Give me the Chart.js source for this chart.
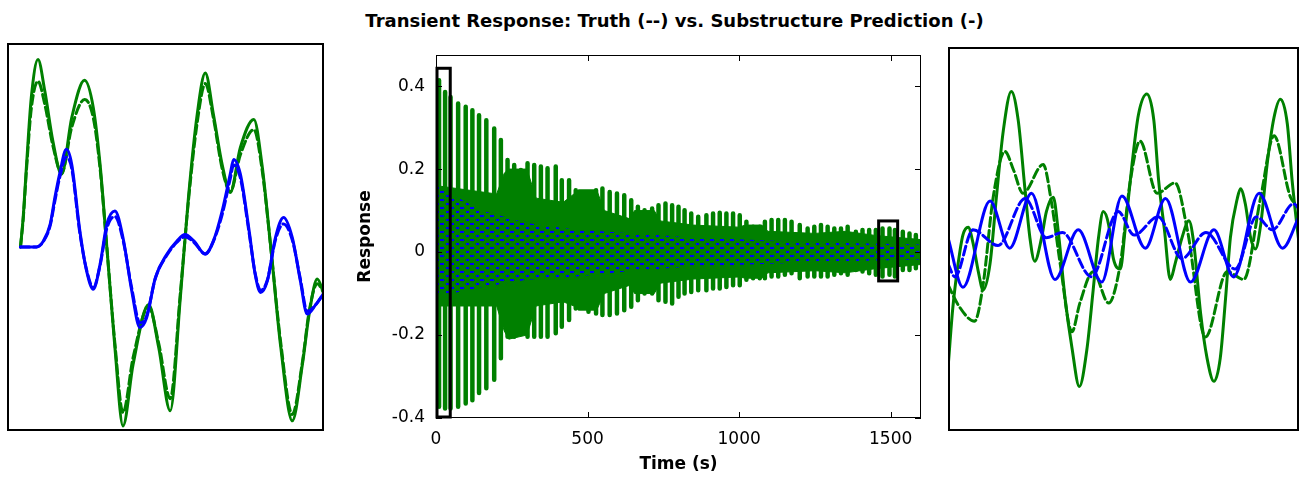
<!DOCTYPE html>
<html>
<head>
<meta charset="utf-8">
<script src="https://cdn.jsdelivr.net/npm/chart.js@4.4.1/dist/chart.umd.min.js"></script>
<style>
  body { margin: 0; background: #fff; width: 1299px; height: 477px; overflow: hidden; position: relative; }
  canvas { position: absolute; }
  #title { position: absolute; left: 0; width: 1349px; top: 10px; text-align: center;
    font: bold 18px "DejaVu Sans", sans-serif; line-height: 22px; color: #000; }
</style>
</head>
<body>
<div id="title">Transient Response: Truth (--) vs. Substructure Prediction (-)</div>
<canvas id="leftChart" width="317" height="388" style="left:7px;top:43px"></canvas>
<canvas id="mainChart" width="600" height="447" style="left:340px;top:30px"></canvas>
<canvas id="rightChart" width="351" height="384" style="left:948px;top:47px"></canvas>
<script>
// zoom windows (time range, response range)
const leftRange = [0, 47];
const leftSpan = [-0.4, 0.443];
const rightRange = [1457, 1523];
const rightSpan = [-0.072, 0.075];

// tick labels of the full-record axes
const xTicks = [0, 500, 1000, 1500];
const yTicks = [-0.4, -0.2, 0, 0.2, 0.4];

// left zoom: first seconds
const leftGreenTime = [2.0, 2.4, 2.9, 3.6, 4.6, 5.6, 6.8, 8.1, 9.6, 11.5, 12.8, 13.8, 14.8, 16.0, 17.2, 18.7, 21.0, 22.5, 24.2, 25.7, 26.9, 28.2, 29.4, 30.6, 31.9, 33.1, 34.6, 36.6, 37.8, 39.1, 40.6, 42.3, 43.8, 44.8, 46.0, 47.0];
const leftGreenPred = [0.0, 0.064, 0.179, 0.324, 0.407, 0.339, 0.230, 0.158, 0.281, 0.362, 0.302, 0.179, 0.0, -0.219, -0.389, -0.255, -0.125, -0.219, -0.356, -0.110, 0.107, 0.288, 0.378, 0.288, 0.179, 0.118, 0.216, 0.277, 0.179, 0.0, -0.219, -0.378, -0.255, -0.146, -0.070, -0.103];
const leftGreenTruth = [0.0, 0.06, 0.17, 0.30, 0.36, 0.31, 0.22, 0.16, 0.26, 0.32, 0.28, 0.17, 0.0, -0.21, -0.36, -0.24, -0.13, -0.21, -0.33, -0.10, 0.10, 0.27, 0.355, 0.28, 0.17, 0.12, 0.20, 0.255, 0.17, 0.0, -0.21, -0.364, -0.25, -0.14, -0.08, -0.10];
const leftBlueTime = [2.0, 4.4, 5.4, 6.4, 7.1, 7.8, 8.8, 9.6, 10.8, 11.8, 12.8, 13.8, 14.8, 16.0, 17.2, 18.5, 19.7, 20.7, 22.0, 23.7, 25.2, 26.4, 27.7, 29.4, 30.6, 31.9, 33.1, 33.6, 34.6, 35.9, 36.8, 37.6, 38.6, 39.8, 41.0, 42.3, 43.5, 44.5, 45.8, 47.0];
const leftBluePred = [0.0, 0.0, 0.013, 0.049, 0.107, 0.158, 0.212, 0.179, 0.035, -0.052, -0.092, -0.038, 0.049, 0.078, 0.020, -0.096, -0.175, -0.154, -0.067, -0.016, 0.013, 0.027, 0.013, -0.016, 0.013, 0.078, 0.158, 0.190, 0.158, 0.035, -0.060, -0.099, -0.074, 0.020, 0.064, 0.020, -0.074, -0.146, -0.125, -0.100];
const leftBlueTruth = [0.0, 0.0, 0.012, 0.046, 0.10, 0.15, 0.195, 0.17, 0.03, -0.05, -0.088, -0.04, 0.04, 0.066, 0.015, -0.09, -0.165, -0.15, -0.068, -0.018, 0.01, 0.022, 0.01, -0.015, 0.012, 0.07, 0.148, 0.178, 0.15, 0.03, -0.058, -0.094, -0.072, 0.015, 0.05, 0.015, -0.07, -0.14, -0.125, -0.10];

// right zoom: near the end
const rightGreenTime = [1457.0, 1457.9, 1458.9, 1459.8, 1460.8, 1461.7, 1462.7, 1463.6, 1464.9, 1466.1, 1467.4, 1468.9, 1470.2, 1471.5, 1472.4, 1473.3, 1474.6, 1475.5, 1476.8, 1477.7, 1479.0, 1480.3, 1481.7, 1483.1, 1484.3, 1485.3, 1486.2, 1487.2, 1488.1, 1489.4, 1490.3, 1491.6, 1492.8, 1494.4, 1495.7, 1496.6, 1497.7, 1498.8, 1499.7, 1501.0, 1502.3, 1503.2, 1504.5, 1505.7, 1507.0, 1508.2, 1509.2, 1510.1, 1511.4, 1512.0, 1512.9, 1513.9, 1514.8, 1515.8, 1517.0, 1518.3, 1519.5, 1520.8, 1521.7, 1522.7, 1523.0];
const rightGreenPred = [-0.048, -0.025, -0.008, 0.003, 0.006, 0.0, -0.011, -0.018, -0.008, 0.0175, 0.043, 0.058, 0.047, 0.020, 0.002, -0.007, 0.002, 0.012, 0.0175, 0.005, -0.021, -0.040, -0.055, -0.041, -0.018, 0.002, 0.012, 0.007, -0.006, -0.010, 0.005, 0.030, 0.049, 0.057, 0.047, 0.024, 0.005, -0.014, -0.008, 0.002, 0.0085, 0.0, -0.027, -0.044, -0.053, -0.044, -0.021, 0.002, 0.017, 0.0207, 0.015, 0.002, -0.0023, 0.007, 0.030, 0.048, 0.055, 0.0456, 0.024, 0.005, 0.0];
const rightTruthTime = [1457.0, 1459.0, 1462.0, 1463.6, 1465.5, 1467.7, 1469.3, 1471.1, 1474.9, 1476.5, 1478.1, 1480.3, 1481.8, 1484.3, 1487.2, 1489.4, 1491.3, 1493.1, 1496.3, 1499.7, 1502.0, 1505.4, 1509.5, 1512.6, 1515.8, 1518.3, 1521.4, 1523.0];
const rightGreenTruth = [-0.016, -0.024, -0.030, -0.016, 0.0175, 0.035, 0.028, 0.019, 0.030, 0.015, -0.008, -0.034, -0.023, -0.011, -0.023, -0.008, 0.024, 0.039, 0.019, 0.023, 0.005, -0.036, -0.011, -0.014, 0.0175, 0.041, 0.0175, 0.014];
const rightBlueTime = [1457.0, 1459.8, 1464.9, 1468.6, 1472.7, 1477.1, 1481.5, 1485.9, 1489.7, 1494.1, 1497.9, 1502.6, 1507.0, 1510.7, 1515.5, 1519.9, 1523.0];
const rightBluePred = [0.002, -0.017, 0.016, -0.002, 0.019, -0.014, 0.005, -0.015, 0.018, -0.002, 0.017, -0.015, 0.005, -0.013, 0.019, -0.002, 0.010];
const rightBlueTruthTime = [1457.0, 1458.3, 1461.7, 1466.4, 1471.5, 1475.5, 1478.5, 1484.0, 1489.0, 1492.0, 1496.5, 1501.0, 1505.5, 1511.0, 1515.0, 1518.0, 1522.0, 1523.0];
const rightBlueTruth = [-0.008, -0.013, 0.005, -0.001, 0.017, 0.002, 0.004, -0.013, 0.012, 0.003, 0.010, -0.006, 0.004, -0.010, 0.010, 0.005, 0.015, 0.013];

// full record: green peaks, green core band, blue band
const spikeTime = [10, 30, 48, 73, 98, 120, 142, 166, 192, 214, 236, 258, 280, 302, 324, 346, 368, 395, 415, 439, 461, 481, 503, 528, 549, 573, 597, 621, 644, 666, 688, 713, 734, 757, 779, 800, 820, 842, 865, 892, 914, 936, 958, 980, 1002, 1024, 1046, 1068, 1085, 1107, 1129, 1151, 1173, 1200, 1226, 1248, 1270, 1292, 1314, 1336, 1358, 1385, 1407, 1429, 1451, 1473, 1496, 1514, 1540, 1562, 1583];
const spikeHigh = [0.414, 0.386, 0.374, 0.358, 0.350, 0.342, 0.330, 0.318, 0.298, 0.270, 0.222, 0.210, 0.198, 0.214, 0.210, 0.206, 0.202, 0.206, 0.173, 0.173, 0.149, 0.141, 0.141, 0.149, 0.153, 0.145, 0.141, 0.137, 0.125, 0.109, 0.101, 0.105, 0.113, 0.117, 0.113, 0.109, 0.101, 0.093, 0.085, 0.089, 0.093, 0.095, 0.093, 0.093, 0.089, 0.073, 0.061, 0.061, 0.073, 0.077, 0.077, 0.077, 0.073, 0.065, 0.057, 0.061, 0.065, 0.061, 0.057, 0.057, 0.061, 0.049, 0.053, 0.053, 0.053, 0.057, 0.057, 0.053, 0.049, 0.045, 0.041];
const spikeLow = [-0.373, -0.377, -0.377, -0.373, -0.365, -0.357, -0.340, -0.328, -0.308, -0.256, -0.204, -0.204, -0.180, -0.204, -0.204, -0.204, -0.204, -0.196, -0.180, -0.164, -0.136, -0.132, -0.144, -0.148, -0.152, -0.152, -0.148, -0.140, -0.132, -0.116, -0.100, -0.100, -0.116, -0.120, -0.124, -0.108, -0.100, -0.096, -0.092, -0.092, -0.088, -0.088, -0.084, -0.080, -0.080, -0.067, -0.063, -0.063, -0.063, -0.059, -0.059, -0.055, -0.051, -0.063, -0.059, -0.059, -0.059, -0.059, -0.055, -0.051, -0.055, -0.043, -0.047, -0.051, -0.055, -0.059, -0.055, -0.059, -0.043, -0.043, -0.039];
const bandTime = [2, 100, 200, 225, 240, 300, 330, 420, 455, 470, 530, 555, 640, 655, 720, 740, 850, 1000, 1020, 1075, 1095, 1250, 1350, 1450, 1600];
const bandHigh = [0.16, 0.15, 0.14, 0.19, 0.2, 0.2, 0.13, 0.12, 0.14, 0.15, 0.15, 0.1, 0.08, 0.1, 0.1, 0.075, 0.065, 0.06, 0.065, 0.065, 0.05, 0.045, 0.05, 0.04, 0.03];
const bandLow = [-0.13, -0.13, -0.13, -0.19, -0.21, -0.2, -0.13, -0.12, -0.13, -0.14, -0.14, -0.1, -0.08, -0.1, -0.1, -0.075, -0.065, -0.06, -0.063, -0.063, -0.05, -0.045, -0.05, -0.04, -0.03];
const blueTime = [2, 50, 150, 300, 450, 650, 850, 1100, 1350, 1600];
const blueHigh = [0.16, 0.14, 0.10, 0.07, 0.055, 0.045, 0.035, 0.028, 0.022, 0.018];
const blueLow = [-0.10, -0.10, -0.085, -0.067, -0.06, -0.045, -0.035, -0.028, -0.022, -0.018];

const GREEN = "#008000";
const BLUE = "#0000ff";
const FONT = '"DejaVu Sans", sans-serif';

const pts = (xs, ys) => xs.map((x, i) => ({ x: x, y: ys[i] }));

function curve(xs, ys, color, dashed) {
  return {
    data: pts(xs, ys),
    borderColor: color,
    borderWidth: 3,
    borderDash: dashed ? [9, 4] : [],
    pointRadius: 0,
    cubicInterpolationMode: "monotone",
    borderCapStyle: "round",
    borderJoinStyle: "round",
    fill: false,
  };
}

const framePlugin = {
  id: "frame",
  afterDraw(chart) {
    const a = chart.chartArea;
    const ctx = chart.ctx;
    ctx.save();
    ctx.strokeStyle = "#000";
    ctx.lineWidth = 2;
    ctx.strokeRect(a.left + 1, a.top + 1, a.right - a.left - 2, a.bottom - a.top - 2);
    ctx.restore();
  },
};

function sideChart(id, range, span, datasets) {
  return new Chart(document.getElementById(id), {
    type: "line",
    data: { datasets: datasets },
    options: {
      responsive: false,
      animation: false,
      layout: { padding: 0 },
      plugins: { legend: { display: false }, tooltip: { enabled: false } },
      scales: {
        x: { type: "linear", min: range[0], max: range[1], display: false },
        y: { type: "linear", min: span[0], max: span[1], display: false },
      },
    },
    plugins: [framePlugin],
  });
}

sideChart("leftChart", leftRange, leftSpan, [
  curve(leftBlueTime, leftBlueTruth, BLUE, true),
  curve(leftBlueTime, leftBluePred, BLUE, false),
  curve(leftGreenTime, leftGreenTruth, GREEN, true),
  curve(leftGreenTime, leftGreenPred, GREEN, false),
]);

sideChart("rightChart", rightRange, rightSpan, [
  curve(rightBlueTruthTime, rightBlueTruth, BLUE, true),
  curve(rightBlueTime, rightBluePred, BLUE, false),
  curve(rightTruthTime, rightGreenTruth, GREEN, true),
  curve(rightGreenTime, rightGreenPred, GREEN, false),
]);

// blue dash texture for the dense truth/prediction band
const tile = document.createElement("canvas");
tile.width = 10;
tile.height = 8;
const tctx = tile.getContext("2d");
tctx.fillStyle = BLUE;
tctx.fillRect(0, 1, 4, 2);
tctx.fillRect(6, 5, 3, 2);
const bluePattern = tctx.createPattern(tile, "repeat");

const spikeData = [];
spikeTime.forEach((t, i) => {
  spikeData.push({ x: t, y: spikeLow[i] }, { x: t, y: spikeHigh[i] }, { x: t, y: null });
});

const axesPlugin = {
  id: "axesBox",
  afterDatasetsDraw(chart) {
    const a = chart.chartArea;
    const ctx = chart.ctx;
    const xs = chart.scales.x;
    const ys = chart.scales.y;
    ctx.save();
    ctx.strokeStyle = "#000";
    ctx.lineWidth = 1;
    ctx.strokeRect(a.left + 0.5, a.top + 0.5, a.right - a.left - 1, a.bottom - a.top - 1);
    ctx.beginPath();
    xTicks.forEach((v) => {
      const px = Math.round(xs.getPixelForValue(v)) + 0.5;
      ctx.moveTo(px, a.bottom); ctx.lineTo(px, a.bottom - 6);
      ctx.moveTo(px, a.top); ctx.lineTo(px, a.top + 6);
    });
    yTicks.forEach((v) => {
      const py = Math.round(ys.getPixelForValue(v)) + 0.5;
      ctx.moveTo(a.left, py); ctx.lineTo(a.left + 6, py);
      ctx.moveTo(a.right, py); ctx.lineTo(a.right - 6, py);
    });
    ctx.stroke();
    // rectangles marking the two zoom windows
    ctx.lineWidth = 3;
    [[leftRange, leftSpan], [rightRange, rightSpan]].forEach(([r, s]) => {
      const x0 = xs.getPixelForValue(r[0]);
      const x1 = xs.getPixelForValue(r[1]);
      const y0 = ys.getPixelForValue(s[1]);
      const y1 = ys.getPixelForValue(s[0]);
      ctx.strokeRect(x0 + 1, y0, x1 - x0 - 1, y1 - y0 - 1);
    });
    ctx.restore();
  },
};

new Chart(document.getElementById("mainChart"), {
  type: "line",
  data: {
    datasets: [
      { data: pts(blueTime, blueHigh), borderWidth: 0, pointRadius: 0, fill: "+1", backgroundColor: bluePattern },
      { data: pts(blueTime, blueLow), borderWidth: 0, pointRadius: 0, fill: false },
      { data: spikeData, borderColor: GREEN, borderWidth: 4.5, borderCapStyle: "round", pointRadius: 0, spanGaps: false, fill: false },
      { data: pts(bandTime, bandHigh), borderColor: GREEN, borderWidth: 1, pointRadius: 0, fill: "+1", backgroundColor: GREEN },
      { data: pts(bandTime, bandLow), borderColor: GREEN, borderWidth: 1, pointRadius: 0, fill: false },
    ],
  },
  options: {
    responsive: false,
    animation: false,
    layout: { padding: { top: 25, right: 19, left: 0, bottom: 0 } },
    plugins: { legend: { display: false }, tooltip: { enabled: false } },
    scales: {
      x: {
        type: "linear",
        min: 0,
        max: 1600,
        grid: { display: false, drawTicks: false },
        border: { display: false },
        afterBuildTicks(scale) { scale.ticks = xTicks.map((v) => ({ value: v })); },
        ticks: { padding: 11, color: "#000", font: { family: FONT, size: 17 }, callback: (v) => String(v) },
        title: { display: true, text: "Time (s)", color: "#000", padding: { top: 0, bottom: 2 }, font: { family: FONT, size: 17, weight: "bold" } },
        afterFit(scale) { scale.height = 59; },
      },
      y: {
        type: "linear",
        min: -0.4,
        max: 0.475,
        grid: { display: false, drawTicks: false },
        border: { display: false },
        afterBuildTicks(scale) { scale.ticks = yTicks.map((v) => ({ value: v })); },
        ticks: {
          padding: 11,
          color: "#000",
          font: { family: FONT, size: 17 },
          callback: (v) => (v === 0 ? "0" : v.toFixed(1)),
        },
        title: { display: true, text: "Response", color: "#000", padding: { top: 15, bottom: 0 }, font: { family: FONT, size: 17, weight: "bold" } },
        afterFit(scale) { scale.width = 96; },
      },
    },
  },
  plugins: [axesPlugin],
});
</script>
</body>
</html>
